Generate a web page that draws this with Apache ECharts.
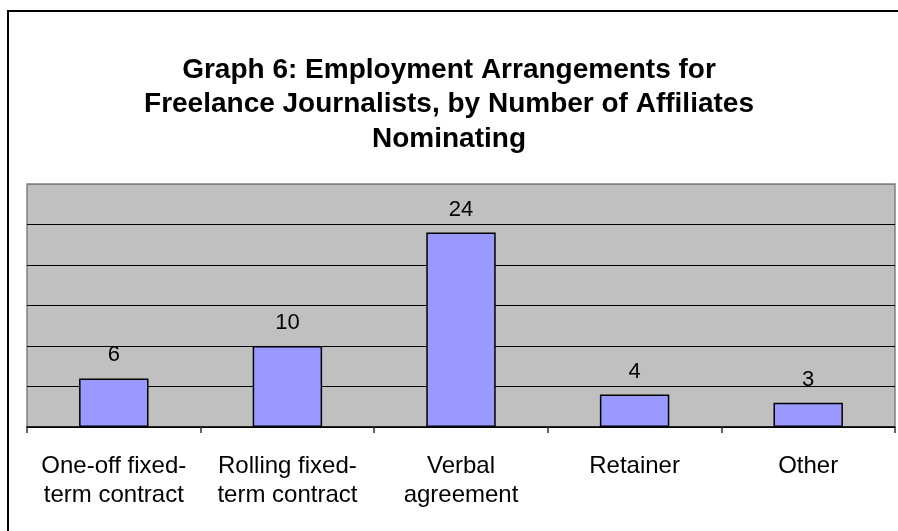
<!DOCTYPE html>
<html>
<head>
<meta charset="utf-8">
<script src="https://cdn.jsdelivr.net/npm/echarts@6/dist/echarts.min.js"></script>
<style>
html,body{margin:0;padding:0;background:#fff;}
#main{width:898px;height:531px;}
</style>
</head>
<body>
<div id="main"></div>
<script>
var titleText = 'Graph 6: Employment Arrangements for\nFreelance Journalists, by Number of Affiliates\nNominating';
var categories = ['One-off fixed-\nterm contract', 'Rolling fixed-\nterm contract', 'Verbal\nagreement', 'Retainer', 'Other'];
var values = [6, 10, 24, 4, 3];

var chart = echarts.init(document.getElementById('main'));
chart.setOption({
  animation: false,
  backgroundColor: '#ffffff',
  title: {
    text: titleText,
    left: 'center',
    top: 48,
    textStyle: {
      fontFamily: 'Liberation Sans, Arial, sans-serif',
      fontWeight: 'bold',
      fontSize: 28,
      lineHeight: 34.5,
      color: '#000'
    }
  },
  graphic: [{
    type: 'rect',
    shape: {x: 8, y: 11, width: 1000, height: 1000},
    style: {fill: 'none', stroke: '#000', lineWidth: 2},
    z: 100
  }],
  grid: {
    left: 27, right: 3, top: 184, bottom: 104,
    show: true,
    backgroundColor: '#c0c0c0',
    borderColor: '#808080',
    borderWidth: 1.5
  },
  xAxis: {
    type: 'category',
    data: categories,
    axisLine: {lineStyle: {color: '#000', width: 1.5}},
    axisTick: {show: true, length: 6, lineStyle: {color: '#333', width: 1.5}},
    axisLabel: {
      margin: 25,
      fontFamily: 'Liberation Sans, Arial, sans-serif',
      fontSize: 24,
      lineHeight: 29,
      color: '#000',
      interval: 0
    }
  },
  yAxis: {
    type: 'value',
    min: 0, max: 30, interval: 5,
    axisLine: {show: false},
    axisTick: {show: false},
    axisLabel: {show: false},
    splitLine: {lineStyle: {color: ['#000', '#000', '#000', '#000', '#000', '#000', '#808080'], width: 1}}
  },
  series: [{
    type: 'bar',
    data: values,
    barWidth: '40%',
    itemStyle: {color: '#9999ff', borderColor: '#000', borderWidth: 1.5},
    label: {
      show: true,
      position: 'top',
      distance: 12,
      fontFamily: 'Liberation Sans, Arial, sans-serif',
      fontSize: 22,
      color: '#000'
    }
  }]
});
</script>
</body>
</html>
